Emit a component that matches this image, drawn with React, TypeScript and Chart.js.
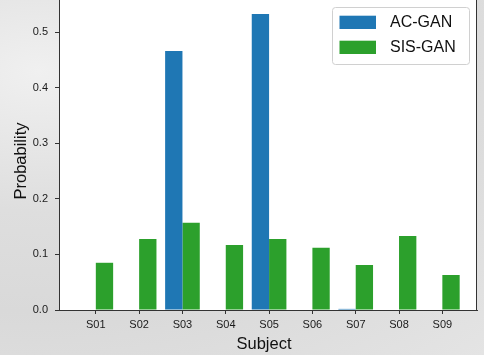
import React, { useEffect, useRef } from "react";
import { Chart, registerables } from "chart.js";

Chart.register(...registerables);

const subjects = ["S01", "S02", "S03", "S04", "S05", "S06", "S07", "S08", "S09"];
const acGan = [0, 0, 0.466, 0, 0.533, 0, 0.002, 0, 0];
const sisGan = [0.085, 0.128, 0.157, 0.117, 0.128, 0.112, 0.081, 0.133, 0.063];
const yTicks = [0, 0.1, 0.2, 0.3, 0.4, 0.5];
const seriesNames = ["AC-GAN", "SIS-GAN"];
const seriesColors = ["#1f77b4", "#2ca02c"];

const FONT = "'Liberation Sans', Arial, Helvetica, sans-serif";

const framePlugin = {
  id: "framePlugin",
  beforeDraw(chart: any) {
    const { ctx, chartArea } = chart;
    ctx.save();
    ctx.fillStyle = "#ffffff";
    ctx.fillRect(chartArea.left, chartArea.top, chartArea.right - chartArea.left, chartArea.bottom - chartArea.top);
    ctx.restore();
  },
  afterDraw(chart: any) {
    const { ctx, chartArea } = chart;
    ctx.save();
    // right spine
    ctx.strokeStyle = "#333";
    ctx.lineWidth = 1;
    ctx.beginPath();
    ctx.moveTo(Math.round(chartArea.right) - 0.5, chartArea.top);
    ctx.lineTo(Math.round(chartArea.right) - 0.5, chartArea.bottom);
    ctx.stroke();

    // axis titles
    ctx.fillStyle = "#111";
    ctx.font = `16.5px ${FONT}`;
    ctx.textAlign = "center";
    ctx.textBaseline = "alphabetic";
    ctx.fillText("Subject", 264, 348.5);
    ctx.save();
    ctx.translate(26, 161);
    ctx.rotate(-Math.PI / 2);
    ctx.fillText("Probability", 0, 0);
    ctx.restore();

    // legend
    const bx = 332.5, by = 7.5, bw = 137, bh = 57, r = 3;
    ctx.fillStyle = "rgba(255,255,255,0.85)";
    ctx.strokeStyle = "#d0d0d0";
    ctx.lineWidth = 1;
    ctx.beginPath();
    ctx.moveTo(bx + r, by);
    ctx.lineTo(bx + bw - r, by);
    ctx.arcTo(bx + bw, by, bx + bw, by + r, r);
    ctx.lineTo(bx + bw, by + bh - r);
    ctx.arcTo(bx + bw, by + bh, bx + bw - r, by + bh, r);
    ctx.lineTo(bx + r, by + bh);
    ctx.arcTo(bx, by + bh, bx, by + bh - r, r);
    ctx.lineTo(bx, by + r);
    ctx.arcTo(bx, by, bx + r, by, r);
    ctx.closePath();
    ctx.fill();
    ctx.stroke();

    const rows = [15.7, 40.7];
    chart.data.datasets.forEach((ds: any, i: number) => {
      ctx.fillStyle = ds.backgroundColor;
      ctx.fillRect(339.5, rows[i], 36.5, 13.3);
      ctx.fillStyle = "#111";
      ctx.font = `16px ${FONT}`;
      ctx.textAlign = "left";
      ctx.textBaseline = "middle";
      ctx.fillText(ds.label, 390, rows[i] + 7);
    });
    ctx.restore();
  },
};

export default function App() {
  const canvasRef = useRef<HTMLCanvasElement | null>(null);

  useEffect(() => {
    document.body.style.margin = "0";
    const canvas = canvasRef.current;
    if (!canvas) return;
    const chart = new Chart(canvas, {
      type: "bar",
      data: {
        datasets: [
          {
            label: seriesNames[0],
            data: acGan.map((v, i) => ({ x: i, y: v })),
            backgroundColor: seriesColors[0],
            borderWidth: 0,
          },
          {
            label: seriesNames[1],
            data: sisGan.map((v, i) => ({ x: i, y: v })),
            backgroundColor: seriesColors[1],
            borderWidth: 0,
          },
        ],
      },
      options: {
        animation: false,
        responsive: false,
        maintainAspectRatio: false,
        layout: { padding: { top: 0, left: 0, right: 7, bottom: 0 } },
        datasets: { bar: { categoryPercentage: 0.8, barPercentage: 1.0 } },
        plugins: { legend: { display: false }, tooltip: { enabled: false } },
        scales: {
          x: {
            type: "linear",
            min: -0.85,
            max: 8.8,
            offset: false,
            afterFit(scale: any) {
              scale.height = 45;
              scale.paddingLeft = 0;
              scale.paddingRight = 0;
            },
            afterBuildTicks(scale: any) {
              scale.ticks = subjects.map((_, i) => ({ value: i }));
            },
            ticks: {
              autoSkip: false,
              maxRotation: 0,
              padding: 4,
              color: "#1a1a1a",
              font: { family: FONT, size: 11 },
              callback: (v: any) => subjects[Math.round(Number(v))] ?? "",
            },
            grid: { offset: false, drawOnChartArea: false, drawTicks: true, tickLength: 4, tickColor: "#333" },
            border: { display: true, color: "#333", width: 1 },
          },
          y: {
            min: 0,
            max: 0.558,
            afterFit(scale: any) {
              scale.width = 59;
              scale.paddingTop = 0;
              scale.paddingBottom = 0;
            },
            afterBuildTicks(scale: any) {
              scale.ticks = yTicks.map((v) => ({ value: v }));
            },
            ticks: {
              padding: 7,
              color: "#1a1a1a",
              font: { family: FONT, size: 11 },
              callback: (v: any) => Number(v).toFixed(1),
            },
            grid: { drawOnChartArea: false, drawTicks: true, tickLength: 4, tickColor: "#333" },
            border: { display: true, color: "#333", width: 1 },
          },
        },
      },
      plugins: [framePlugin],
    });
    return () => chart.destroy();
  }, []);

  return (
    <div
      style={{
        width: 484,
        height: 355,
        background:
          "radial-gradient(ellipse at 8% 20%, #f0f0f0 0%, #dedede 35%, #d9d9d9 60%, #e4e4e4 100%)",
      }}
    >
      <canvas ref={canvasRef} width={484} height={355} style={{ display: "block" }} />
    </div>
  );
}
